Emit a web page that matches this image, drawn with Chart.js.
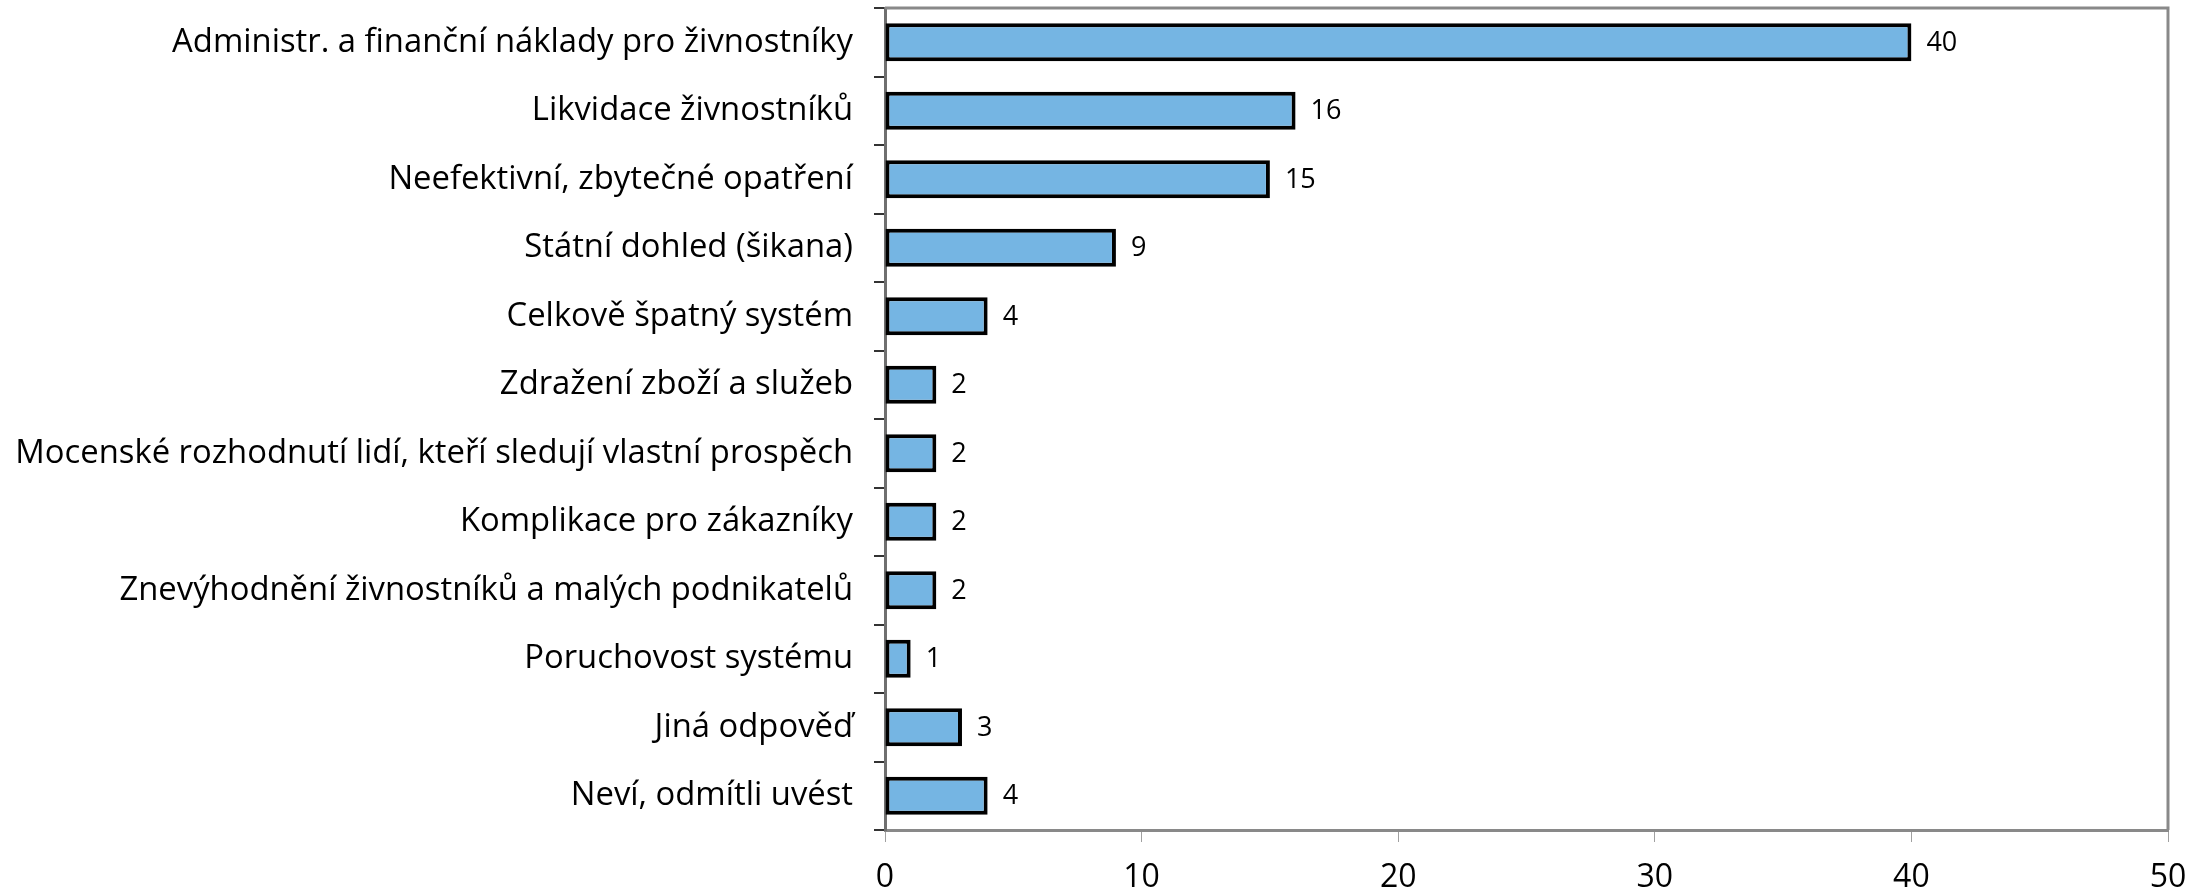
<!DOCTYPE html>
<html>
<head>
<meta charset="utf-8">
<script src="https://cdn.jsdelivr.net/npm/chart.js@4"></script>
<style>
html,body{margin:0;padding:0;background:#fff;}
#wrap{width:2211px;height:895px;position:relative;}
</style>
</head>
<body>
<div id="wrap"><canvas id="c" width="2211" height="895"></canvas></div>
<script>
const categories = [
  "Administr. a finanční náklady pro živnostníky",
  "Likvidace živnostníků",
  "Neefektivní, zbytečné opatření",
  "Státní dohled (šikana)",
  "Celkově špatný systém",
  "Zdražení zboží a služeb",
  "Mocenské rozhodnutí lidí, kteří sledují vlastní prospěch",
  "Komplikace pro zákazníky",
  "Znevýhodnění živnostníků a malých podnikatelů",
  "Poruchovost systému",
  "Jiná odpověď",
  "Neví, odmítli uvést"
];
const values = [40, 16, 15, 9, 4, 2, 2, 2, 2, 1, 3, 4];
const xTicks = [0, 10, 20, 30, 40, 50];

const FONT = "'Open Sans', 'Noto Sans', sans-serif";

const frame = {
  id: 'frame',
  afterDatasetsDraw(chart) {
    const {ctx, chartArea: a} = chart;
    ctx.save();
    ctx.strokeStyle = '#898989';
    ctx.lineWidth = 3;
    ctx.beginPath();
    ctx.moveTo(a.left, a.top);
    ctx.lineTo(a.right, a.top);
    ctx.lineTo(a.right, a.bottom);
    ctx.stroke();
    ctx.restore();
  }
};

const valueLabels = {
  id: 'valueLabels',
  afterDatasetsDraw(chart) {
    const {ctx} = chart;
    const meta = chart.getDatasetMeta(0);
    ctx.save();
    ctx.fillStyle = '#000';
    ctx.font = "27px " + FONT;
    ctx.textAlign = 'left';
    ctx.textBaseline = 'middle';
    meta.data.forEach((bar, i) => {
      ctx.fillText(String(chart.data.datasets[0].data[i]), bar.x + 15, bar.y + 1);
    });
    ctx.restore();
  }
};

new Chart(document.getElementById('c'), {
  type: 'bar',
  data: {
    labels: categories,
    datasets: [{
      data: values,
      backgroundColor: '#75B5E3',
      borderColor: '#000',
      borderWidth: 4,
      borderSkipped: false,
      barPercentage: 0.555,
      categoryPercentage: 1.0
    }]
  },
  options: {
    indexAxis: 'y',
    responsive: false,
    animation: false,
    devicePixelRatio: 1,
    layout: {padding: {top: 8, right: 43, left: 0, bottom: 0}},
    plugins: {legend: {display: false}, tooltip: {enabled: false}},
    scales: {
      x: {
        min: 0, max: 50,
        afterBuildTicks(axis) { axis.ticks = xTicks.map(v => ({value: v})); },
        afterFit(axis) { axis.height = 65; axis.paddingLeft = 0; axis.paddingRight = 0; },
        border: {color: '#898989', width: 3},
        grid: {drawOnChartArea: false, drawTicks: true, tickLength: 12, color: '#a0a0a0', lineWidth: 1},
        ticks: {color: '#000', font: {family: FONT, size: 32}, padding: 17, maxRotation: 0}
      },
      y: {
        afterFit(axis) { axis.width = 885; axis.paddingTop = 0; axis.paddingBottom = 0; },
        border: {color: '#6f6f6f', width: 3},
        grid: {drawOnChartArea: false, drawTicks: true, tickLength: 11, color: '#333', lineWidth: 2, offset: true},
        ticks: {color: '#000', font: {family: FONT, size: 32.8}, padding: 21, autoSkip: false}
      }
    }
  },
  plugins: [frame, valueLabels]
});
</script>
</body>
</html>
